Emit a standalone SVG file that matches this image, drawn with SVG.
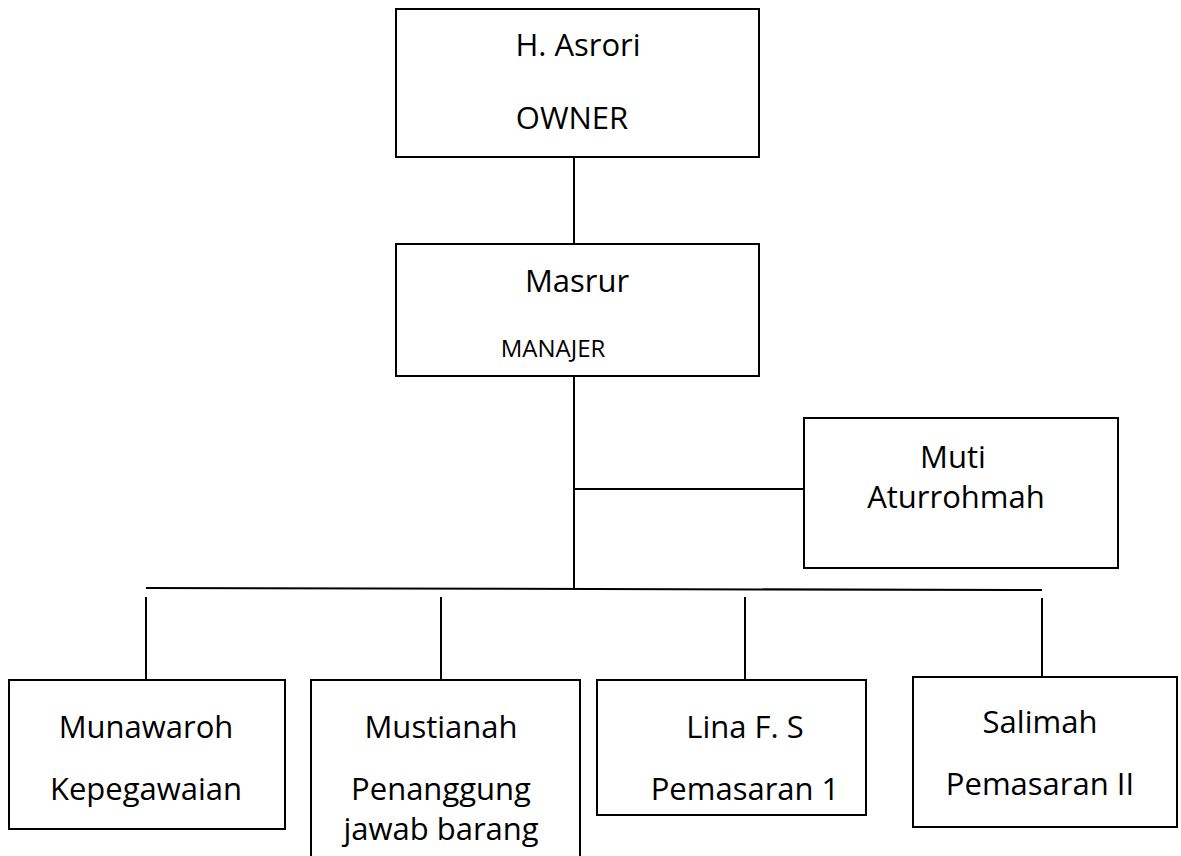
<svg xmlns="http://www.w3.org/2000/svg" width="1181" height="856" viewBox="0 0 1181 856">
<style>
.box{fill:#fff;stroke:#000;stroke-width:2}
.ln{stroke:#000;stroke-width:2;fill:none}
text{font-family:"Open Sans","Noto Sans",sans-serif;font-size:31px;fill:#000;text-anchor:middle}
.sm{font-size:24px}
</style>
<rect width="1181" height="856" fill="#fff"/>
<g id="connectors">
<line class="ln" x1="574" y1="157" x2="574" y2="244"/>
<line class="ln" x1="574" y1="376" x2="574" y2="590"/>
<line class="ln" x1="574" y1="489" x2="804" y2="489"/>
<line class="ln" x1="146" y1="588" x2="1042" y2="590"/>
<line class="ln" x1="146" y1="597" x2="146" y2="680"/>
<line class="ln" x1="441" y1="597" x2="441" y2="680"/>
<line class="ln" x1="745" y1="597" x2="745" y2="680"/>
<line class="ln" x1="1042" y1="598" x2="1042" y2="677"/>
</g>
<g id="owner">
<rect class="box" x="396" y="9" width="363" height="148"/>
<text x="578" y="56">H. Asrori</text>
<text x="572" y="129">OWNER</text>
</g>
<g id="manajer">
<rect class="box" x="396" y="244" width="363" height="132"/>
<text x="577" y="292">Masrur</text>
<text class="sm" x="553" y="357">MANAJER</text>
</g>
<g id="muti">
<rect class="box" x="804" y="418" width="314" height="150"/>
<text x="953" y="468">Muti</text>
<text x="956" y="508">Aturrohmah</text>
</g>
<g id="munawaroh">
<rect class="box" x="9" y="680" width="276" height="149"/>
<text x="146" y="738">Munawaroh</text>
<text x="146" y="800">Kepegawaian</text>
</g>
<g id="mustianah">
<rect class="box" x="311" y="680" width="269" height="180"/>
<text x="441" y="738">Mustianah</text>
<text x="441" y="800">Penanggung</text>
<text x="441" y="840">jawab barang</text>
</g>
<g id="lina">
<rect class="box" x="597" y="680" width="269" height="135"/>
<text x="745" y="738">Lina F. S</text>
<text x="745" y="800">Pemasaran 1</text>
</g>
<g id="salimah">
<rect class="box" x="913" y="677" width="264" height="150"/>
<text x="1040" y="733">Salimah</text>
<text x="1040" y="795">Pemasaran II</text>
</g>
</svg>
